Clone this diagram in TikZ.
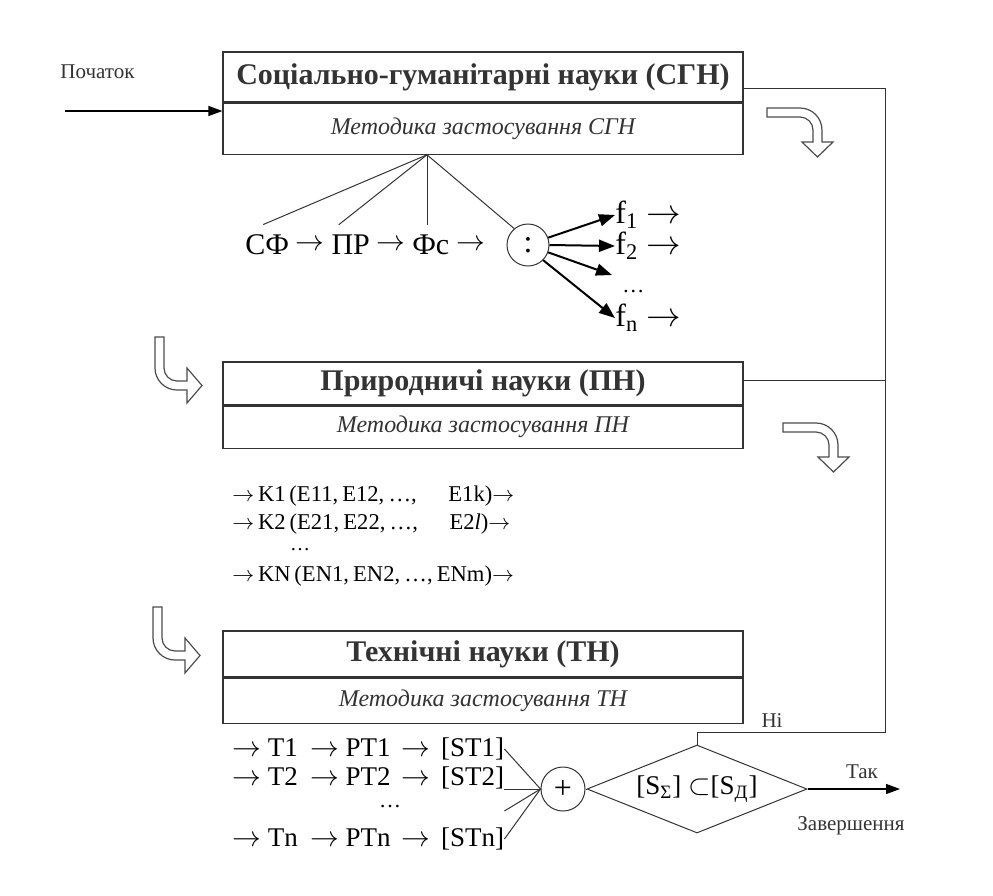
\documentclass[tikz,border=0pt]{standalone}
\usepackage{fontspec}
\setmainfont{Liberation Serif}
\usetikzlibrary{positioning,arrows.meta,shapes.geometric}

\tikzset{
  ink/.style={draw=black!80, line width=0.5pt},
  headbox/.style={draw=black!80, line width=0.6pt, minimum width=260pt, inner sep=0pt,
    text=black!80, font=\fontsize{15}{18}\selectfont\bfseries},
  methbox/.style={draw=black!80, line width=0.6pt, minimum width=260pt, inner sep=0pt,
    text=black!80, font=\fontsize{12}{14}\selectfont\itshape},
  frm/.style={inner sep=0pt, font=\fontsize{15}{18}\selectfont},
  krow/.style={inner sep=0pt, anchor=west, font=\fontsize{11.3}{14}\selectfont},
  trow/.style={inner sep=0pt, anchor=west, font=\fontsize{13.5}{16}\selectfont},
  small/.style={inner sep=0pt, text=black!80, font=\fontsize{10.5}{12}\selectfont},
  opcirc/.style={circle, draw=black!80, line width=0.5pt, inner sep=0pt},
  arr/.style={-{Triangle[length=7pt,width=5pt]}, line width=0.6pt},
  fanarr/.style={-{Triangle[length=8pt,width=6pt]}, line width=1pt},
  bendshape/.style={draw=black!70, line width=0.6pt, fill=white},
  bendrd/.pic={
    \path[bendshape] (0,0) -- (33,0) arc[start angle=-90, end angle=0, radius=22]
      -- (55,34) -- (66,34) -- (50.5,49) -- (35,34) -- (46,34) -- (46,22)
      arc[start angle=0, end angle=-90, radius=13] -- (0,9) -- cycle;
  },
  benddr/.pic={
    \path[bendshape] (0,0) -- (0,31) arc[start angle=180, end angle=90, radius=22]
      -- (32,53) -- (32,66) -- (47,48.5) -- (32,31) -- (32,44) -- (22,44)
      arc[start angle=90, end angle=180, radius=13] -- (9,0) -- cycle;
  },
}

\begin{document}
\begin{tikzpicture}[x=0.5pt, y=-0.5pt]
  \useasboundingbox (0,0) rectangle (993,896);

  % three blocks
  \node[headbox, minimum height=25pt] (sgn) at (483,77) {Соціально-гуманітарні науки (СГН)};
  \node[methbox, minimum height=25.5pt, below=0pt of sgn] (sgnm) {Методика застосування СГН};
  \node[headbox, minimum height=21.5pt] (pn) at (483,383.5) {Природничі науки (ПН)};
  \node[methbox, minimum height=21pt, below=0pt of pn] (pnm) {Методика застосування ПН};
  \node[headbox, minimum height=23pt] (tn) at (483,654) {Технічні науки (ТН)};
  \node[methbox, minimum height=22.5pt, below=0pt of tn] (tnm) {Методика застосування ТН};

  % start
  \node[small, anchor=west] (beg) at (60,72) {Початок};
  \coordinate (st) at (65,111);
  \draw[arr] (st) -- (sgnm.west |- st);

  % first row
  \node[frm, anchor=west] (sf) at (245,245) {СФ};
  \node[frm, right=3pt of sf] (ar1) {$\rightarrow$};
  \node[frm, right=3pt of ar1] (pr) {ПР};
  \node[frm, right=3pt of pr] (ar2) {$\rightarrow$};
  \node[frm, right=3pt of ar2] (fs) {Фс};
  \node[frm, right=3pt of fs] (ar3) {$\rightarrow$};
  \node[opcirc, minimum size=21pt, font=\fontsize{16}{19}\selectfont] (div) at (528,245) {:};
  \coordinate (fan) at (sgnm.south -| 427,0);
  \draw[ink] (fan) -- ([shift={(-4,-10)}]sf.north);
  \draw[ink] (fan) -- ([shift={(-12,-10)}]pr.north);
  \draw[ink] (fan) -- ([yshift=5pt]fan |- fs.north);
  \draw[ink] (fan) -- (div.130);

  \node[frm, anchor=west, font=\fontsize{16}{19}\selectfont] (f1) at (615,215) {f\textsubscript{1} $\rightarrow$};
  \node[frm, anchor=west, font=\fontsize{16}{19}\selectfont] (f2) at (615,246) {f\textsubscript{2} $\rightarrow$};
  \coordinate (f3) at (612,275);
  \node[frm, anchor=west, font=\fontsize{11}{13}\selectfont] (fd) at (622,292) {…};
  \node[frm, anchor=west, font=\fontsize{16}{19}\selectfont] (fn) at (615,318) {f\textsubscript{n} $\rightarrow$};
  \draw[fanarr] (div.20) -- (f1.west);
  \draw[fanarr] (div.east) -- (f2.west);
  \draw[fanarr] (div.-20) -- (f3);
  \draw[fanarr] (div.-45) -- (fn.west);

  % second row
  \node[krow] (k1) at (232,496) {\makebox[139pt][s]{$\rightarrow$ K1 (E11, E12, …,\hspace{1.4em}E1k)\hfill$\rightarrow$}};
  \node[krow] (k2) at (232,524) {\makebox[139pt][s]{$\rightarrow$ K2 (E21, E22, …,\hspace{1.4em}E2\textit{l})\hfill$\rightarrow$}};
  \node[krow, anchor=center, font=\fontsize{10}{11}\selectfont] (kd) at (300,550) {…};
  \node[krow] (kn) at (232,576) {\makebox[139pt][s]{$\rightarrow$ KN (EN1, EN2, …, ENm)\hfill$\rightarrow$}};

  % third row
  \node[trow] (t1) at (232,749) {$\rightarrow$ T1\hspace{0.45em}$\rightarrow$ PT1\hspace{0.4em}$\rightarrow$\hspace{0.4em}[ST1]};
  \node[trow] (t2) at (232,778) {$\rightarrow$ T2\hspace{0.45em}$\rightarrow$ PT2\hspace{0.4em}$\rightarrow$\hspace{0.4em}[ST2]};
  \node[trow, anchor=center, font=\fontsize{11}{12}\selectfont] (td) at (390,807) {…};
  \node[trow] (tnr) at (232,839) {$\rightarrow$ Tn\hspace{0.45em}$\rightarrow$ PTn\hspace{0.4em}$\rightarrow$\hspace{0.4em}[STn]};
  \coordinate (tc) at (tnr.east |- 0,811);
  \node[opcirc, minimum size=22pt, font=\fontsize{16}{19}\selectfont] (plus) at (563,789) {+};
  \draw[ink] (t1.east) -- (plus.west);
  \draw[ink] (t2.east |- plus) -- (plus.west);
  \draw[ink] (tc) -- (plus.west);
  \draw[ink] (tnr.east) -- (plus.west);

  \node[diamond, aspect=2.5, draw=black!80, line width=0.5pt, inner sep=0pt,
    minimum width=110pt, minimum height=44pt, font=\fontsize{13.5}{16}\selectfont] (dec) at (697,789)
    {[S\textsubscript{Σ}] $\subset$[S\textsubscript{Д}]};
  \draw[ink] (plus.east) -- (dec.west);
  \coordinate (fin) at (900,789);
  \draw[arr] (dec.east) -- (fin);
  \node[small] (yes) at (862,772) {Так};
  \node[small] (end) at (851,826) {Завершення};
  \node[small] (no) at (772,721) {Ні};

  % feedback line
  \coordinate (ra) at (885,88);
  \coordinate (rb) at (885,380);
  \coordinate (rc) at (885,732);
  \draw[ink] (sgn.east |- ra) -- (ra) -- (rb) -- (pn.east |- rb);
  \draw[ink] (dec.north) |- (rc) -- (rb);

  % bent arrows
  \pic at (767,108) {bendrd};
  \pic at (783,423) {bendrd};
  \pic at (155,337) {benddr};
  \pic at (153,607) {benddr};
\end{tikzpicture}
\end{document}
